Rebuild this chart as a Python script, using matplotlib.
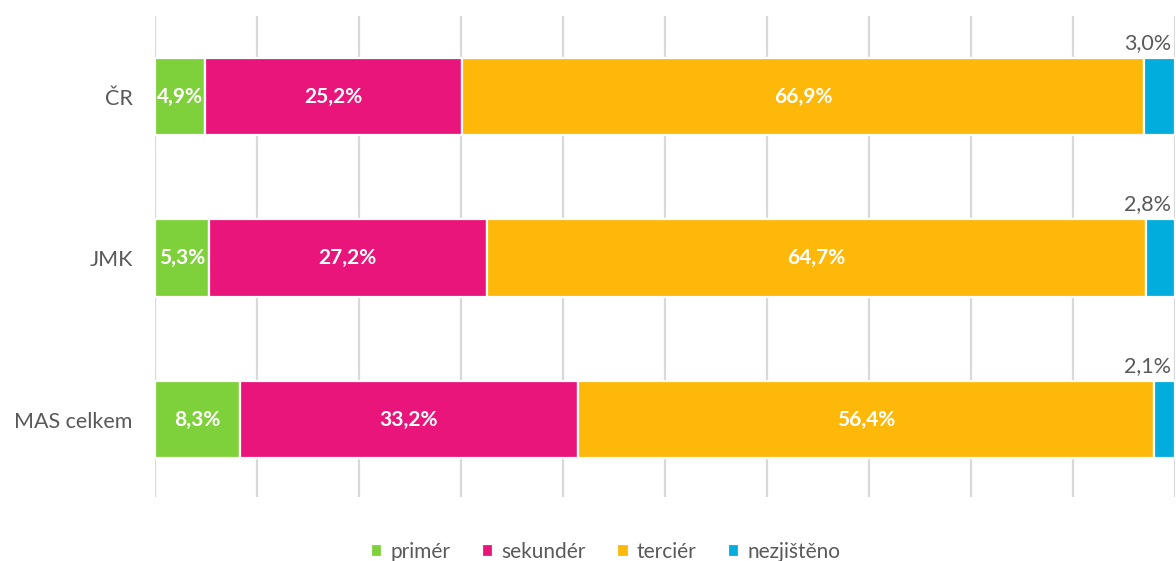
import numpy as np
import matplotlib
matplotlib.use('Agg')
import matplotlib.pyplot as plt

plt.rcParams['font.family'] = ['Lato', 'DejaVu Sans']

# Struktura podle sektorů (podíl v %)
kategorie = ['ČR', 'JMK', 'MAS celkem']
serie = ['primér', 'sekundér', 'terciér', 'nezjištěno']
primer = [4.9, 5.3, 8.3]
sekunder = [25.2, 27.2, 33.2]
tercier = [66.9, 64.7, 56.4]
nezjisteno = [3.0, 2.8, 2.1]
barvy = ['#7FD13B', '#EA157A', '#FEB80A', '#00ADDC']

hodnoty = [primer, sekunder, tercier, nezjisteno]

fig = plt.figure(figsize=(11.76, 5.61), dpi=100)
ax = fig.add_axes([155 / 1176, 64 / 561, 1020 / 1176, 481 / 561])

y = np.arange(len(kategorie))
vlevo = np.zeros(len(kategorie))
for i, (nazev, data, barva) in enumerate(zip(serie, hodnoty, barvy)):
    data = np.array(data)
    bars = ax.barh(y, data, left=vlevo, height=0.48, color=barva,
                   edgecolor='white', linewidth=1.6, label=nazev, zorder=3)
    for b, v in zip(bars, data):
        txt = f'{v:.1f}%'.replace('.', ',')
        if i < 3:
            ax.text(b.get_x() + b.get_width() / 2, b.get_y() + b.get_height() / 2,
                    txt, ha='center', va='center', color='white',
                    fontsize=15, fontweight='bold', zorder=4)
        else:
            ax.text(b.get_x() + b.get_width() - 0.4, b.get_y() - 0.03, txt,
                    ha='right', va='bottom', color='#595959', fontsize=15.5,
                    zorder=4)
    vlevo += data

ax.set_xlim(0, 100)
ax.set_ylim(2.48, -0.5)
ax.set_xticks(np.arange(0, 101, 10))
ax.xaxis.grid(True, color='#d9d9d9', linewidth=1.6)
ax.set_axisbelow(True)
ax.tick_params(axis='x', length=0, labelbottom=False)
ax.tick_params(axis='y', length=0, pad=16, labelsize=15.5, labelcolor='#595959')
ax.set_yticks(y)
ax.set_yticklabels(kategorie)
for s in ax.spines.values():
    s.set_visible(False)

fig.legend(loc='center', bbox_to_anchor=(0.515, 0.016), ncol=4, frameon=False,
           fontsize=15, labelcolor='#595959', handlelength=0.55,
           handleheight=0.55, handletextpad=0.4, columnspacing=1.5)

fig.savefig('out.png', dpi=100)
